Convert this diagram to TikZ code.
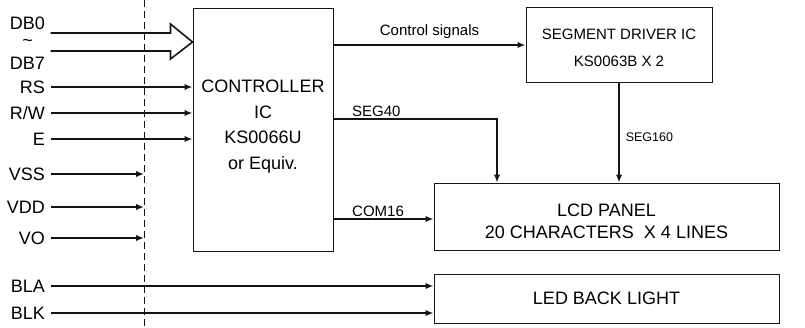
\documentclass[tikz,border=0pt]{standalone}
\usepackage{fontspec}
\setmainfont{Liberation Sans}
\usetikzlibrary{arrows.meta,calc,positioning}
\definecolor{lcdink}{RGB}{20,20,20}

\begin{document}
\begin{tikzpicture}[x=1pt, y=-1pt,
      box/.style={draw=lcdink, line width=1pt, inner sep=0pt, align=center},
      sig/.style={draw=lcdink, line width=1.6pt, -{Latex[length=8pt,width=6.5pt]}},
      pin/.style={anchor=east, inner sep=0pt, font=\fontsize{18}{20}\selectfont},
      tag/.style={inner sep=0pt, font=\fontsize{15}{17}\selectfont}
    ]
      \useasboundingbox (0,0) rectangle (805,327);

      % blocks
      \node[box, minimum width=140pt, minimum height=243pt, text depth=10pt, font=\fontsize{18}{25.5}\selectfont] (ctrl) at (263,129.5) {CONTROLLER\\IC\\KS0066U\\or Equiv.};
      \node[box, minimum width=186pt, minimum height=75pt, text height=44pt, font=\fontsize{15}{27}\selectfont] (segdrv) at (619,44.5) {SEGMENT DRIVER IC\\KS0063B X 2};
      \node[box, minimum width=345pt, minimum height=67pt, text height=44pt, font=\fontsize{18}{22}\selectfont] (lcd) at (606.5,216.5) {LCD PANEL\hspace{26pt}\\20 CHARACTERS\ \ X 4 LINES};
      \node[box, minimum width=345pt, minimum height=49pt, font=\fontsize{18}{22}\selectfont] (led) at (606.5,298.5) {LED BACK LIGHT};

      % interface border
      \coordinate (cut) at (144,0);
      \draw[lcdink, line width=0.9pt, dash pattern=on 7pt off 4pt] (cut) -- (144,327);

      % pin names
      \node[pin] (db0) at (45,23) {DB0};
      \node[pin] (dbto) at (33,43) {\textasciitilde};
      \node[pin] (db7) at (45,63) {DB7};
      \node[pin] (rs) at (45,87) {RS};
      \node[pin] (rw) at (45,113) {R/W};
      \node[pin] (e) at (45,139) {E};
      \node[pin] (vss) at (45,174) {VSS};
      \node[pin] (vdd) at (45,207) {VDD};
      \node[pin] (vo) at (45,238) {VO};
      \node[pin] (bla) at (45,286) {BLA};
      \node[pin] (blk) at (45,313) {BLK};

      % data bus
      \coordinate (dbtip) at (ctrl.west |- 0,42);
      \draw[lcdink, line width=1.6pt, line join=miter]
        ($(dbtip)+(-142,-9)$) -- ($(dbtip)+(-22,-9)$) -- ($(dbtip)+(-22,-18)$) -- (dbtip)
        -- ($(dbtip)+(-22,17)$) -- ($(dbtip)+(-22,9)$) -- ($(dbtip)+(-142,9)$);

      % control inputs
      \foreach \p in {rs,rw,e}
        \draw[sig] ($(\p.east)+(6,0)$) -- (\p.east -| ctrl.west);
      \foreach \p in {vss,vdd,vo}
        \draw[sig] ($(\p.east)+(6,0)$) -- (\p.east -| cut);
      \foreach \p in {bla,blk}
        \draw[sig] ($(\p.east)+(6,0)$) -- (\p.east -| led.west);

      % internal signals
      \coordinate (ctl) at (ctrl.east |- 0,45);
      \draw[sig] (ctl) -- (ctl -| segdrv.west)
        node[tag, midway, above=6pt] (ctltag) {Control signals};
      \coordinate (s40) at (ctrl.east |- 0,119);
      \draw[sig] (s40) -| (497,0 |- lcd.north);
      \node[tag, anchor=south west] (s40tag) at (352,117) {SEG40};
      \coordinate (c16) at (ctrl.east |- 0,219);
      \draw[sig] (c16) -- (c16 -| lcd.west);
      \node[tag, anchor=south west] (c16tag) at (352,217) {COM16};
      \draw[sig] (segdrv.south) -- (segdrv.south |- lcd.north)
        node[tag, pos=0.55, right=6pt, font=\fontsize{12.5}{14}\selectfont] (s160tag) {SEG160};
    \end{tikzpicture}
\end{document}
